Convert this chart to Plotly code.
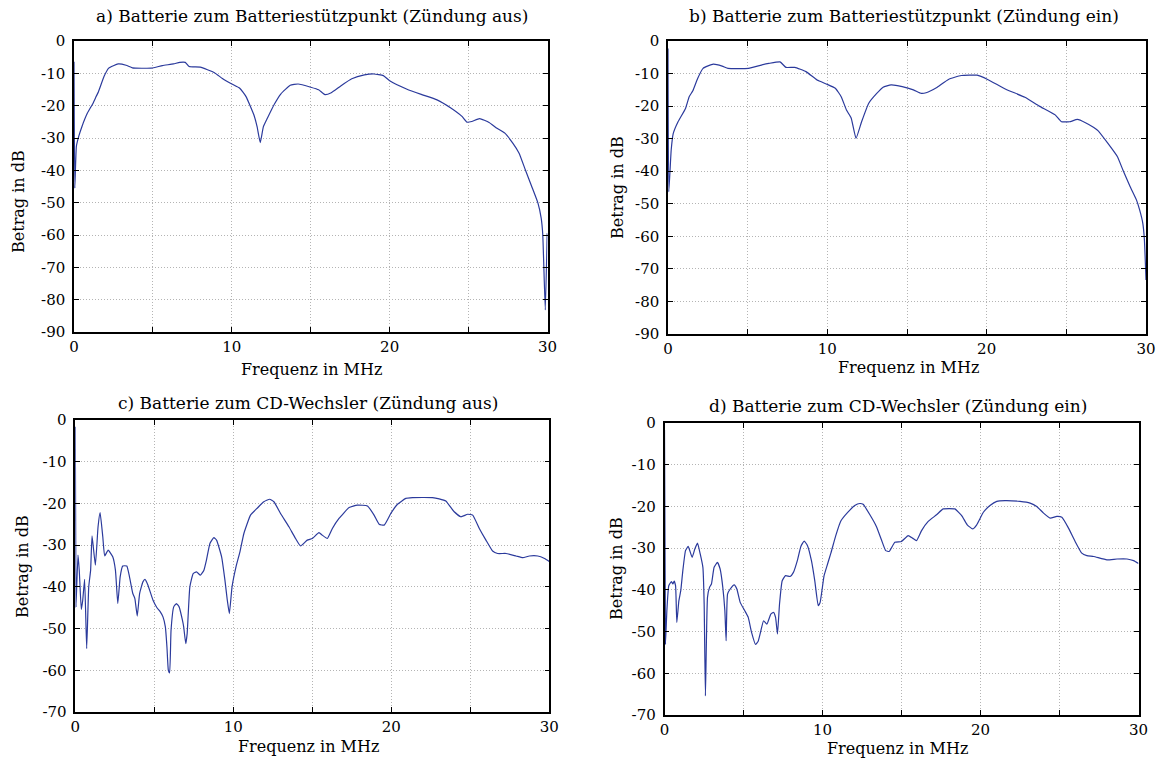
import plotly.graph_objects as go

# ---------------- data ----------------
freq_a = [0, 0.05, 0.15, 0.3, 0.5, 0.85, 1.2, 1.4, 1.55, 1.9, 2.2, 2.8, 3.3, 3.7, 4.9, 5.6, 6.3, 6.7,
          7.05, 7.3, 8.0, 8.9, 9.4, 10.0, 10.5, 10.9, 11.4, 11.6, 11.8, 12.0, 12.25, 12.7, 13.1, 13.7,
          14.2, 15.0, 15.5, 15.9, 16.3, 16.9, 17.6, 18.4, 19.0, 19.6, 20.0, 21.1, 22.0, 23.0, 23.9,
          24.6, 24.9, 25.2, 25.7, 26.3, 26.8, 27.3, 27.8, 28.2, 28.6, 29.0, 29.4, 29.6, 29.7, 29.86,
          29.98]
mag_a = [-6.4, -45.5, -32.6, -29.5, -26.5, -22.3, -19.3, -17.2, -15.7, -11.0, -8.4, -7.1, -7.5, -8.3,
         -8.4, -7.6, -7.1, -6.6, -6.6, -7.9, -8.1, -9.8, -11.6, -13.3, -14.6, -17.2, -22.9, -26.5,
         -31.4, -26.5, -23.9, -19.5, -16.4, -13.7, -13.3, -14.3, -15.1, -16.6, -16.0, -13.9, -11.7,
         -10.5, -10.2, -10.7, -12.3, -14.9, -16.5, -18.2, -20.8, -23.4, -25.1, -24.9, -24.0, -25.2,
         -27.0, -28.5, -31.6, -34.7, -39.9, -45.0, -50.2, -54.8, -59.9, -83.2, -59.5]

freq_b = [0, 0.05, 0.2, 0.33, 0.63, 1.1, 1.33, 1.56, 1.86, 2.2, 2.84, 3.4, 3.77, 5.05, 5.86, 6.33,
          7.03, 7.4, 7.96, 8.66, 9.36, 9.94, 10.5, 10.87, 11.2, 11.5, 11.8, 12.15, 12.6, 13.1, 13.5,
          14.0, 14.7, 15.4, 15.9, 16.2, 16.9, 17.6, 18.4, 19.4, 20.06, 21.2, 22.4, 23.3, 24.3, 24.7,
          25.2, 25.7, 26.2, 26.7, 27.0, 27.6, 28.2, 28.55, 29.0, 29.4, 29.6, 29.8, 29.9, 30.0]
mag_b = [-2.3, -46.3, -33.5, -28.4, -24.8, -20.7, -17.1, -15.3, -11.5, -8.4, -7.1, -7.7, -8.4, -8.4,
         -7.4, -6.9, -6.4, -8.1, -8.1, -9.4, -12.0, -13.2, -14.5, -17.1, -21.2, -23.7, -29.9, -24.8,
         -19.1, -16.1, -14.2, -13.5, -14.0, -15.0, -16.1, -15.9, -14.2, -11.8, -10.6, -10.5, -11.8,
         -14.8, -17.3, -20.0, -22.7, -24.8, -24.8, -24.1, -25.1, -26.5, -27.6, -31.4, -35.5, -39.6,
         -44.7, -48.8, -51.9, -56.0, -61.1, -73.4]

freq_c = [0, 0.04, 0.17, 0.25, 0.38, 0.47, 0.59, 0.72, 0.85, 0.97, 1.06, 1.27, 1.44, 1.57, 1.74, 1.86,
          2.08, 2.37, 2.54, 2.69, 2.84, 3.0, 3.26, 3.43, 3.64, 3.77, 3.92, 4.07, 4.28, 4.41, 4.6, 4.92,
          5.17, 5.38, 5.55, 5.7, 5.8, 5.89, 5.97, 6.06, 6.23, 6.4, 6.57, 6.78, 6.86, 6.99, 7.08, 7.25,
          7.46, 7.67, 7.92, 8.14, 8.3, 8.52, 8.77, 8.94, 9.26, 9.47, 9.62, 9.75, 9.92, 10.17, 10.42,
          10.67, 11.09, 11.5, 11.93, 12.3, 12.57, 12.99, 13.52, 13.94, 14.26, 14.68, 15.0, 15.42,
          15.63, 15.95, 16.27, 16.69, 17.33, 17.85, 18.49, 18.91, 19.23, 19.55, 19.97, 20.39, 20.92,
          21.34, 22.61, 23.03, 23.45, 23.98, 24.4, 24.83, 25.15, 25.57, 25.99, 26.41, 26.73, 27.26,
          27.9, 28.32, 28.74, 29.27, 29.7, 30.0]
mag_c = [-1.6, -44.8, -32.4, -36.0, -45.4, -43.2, -38.2, -54.8, -40.0, -36.0, -27.8, -34.8, -25.6,
         -22.2, -28.0, -32.6, -31.2, -32.8, -36.0, -44.0, -37.6, -35.0, -35.0, -37.6, -41.6, -42.8,
         -47.0, -41.6, -38.8, -38.2, -39.6, -43.2, -45.0, -46.0, -47.2, -49.6, -54.4, -60.0, -60.6,
         -50.4, -44.8, -44.0, -44.8, -48.0, -49.6, -53.6, -51.2, -40.0, -36.8, -36.4, -37.2, -36.0,
         -33.6, -29.6, -28.2, -28.8, -32.8, -38.4, -43.2, -46.4, -40.0, -35.2, -31.6, -27.2, -22.8,
         -21.2, -19.6, -19.0, -19.6, -22.4, -25.6, -28.4, -30.2, -28.8, -28.4, -27.0, -27.6, -28.4,
         -26.0, -23.6, -21.0, -20.4, -20.6, -22.8, -25.0, -25.2, -22.4, -20.2, -18.8, -18.6, -18.6,
         -18.9, -19.4, -22.0, -23.2, -22.6, -22.8, -26.0, -28.8, -31.4, -32.0, -32.0, -32.6, -33.0,
         -32.6, -32.6, -33.2, -33.9]

freq_d = [0, 0.06, 0.15, 0.27, 0.44, 0.53, 0.61, 0.7, 0.78, 0.91, 1.03, 1.16, 1.33, 1.5, 1.75, 1.92,
          2.09, 2.26, 2.43, 2.51, 2.59, 2.72, 2.85, 2.97, 3.14, 3.35, 3.52, 3.69, 3.82, 3.9, 3.99,
          4.16, 4.41, 4.58, 4.79, 5.08, 5.3, 5.51, 5.76, 5.93, 6.1, 6.27, 6.48, 6.73, 6.9, 7.03, 7.15,
          7.28, 7.45, 7.66, 7.95, 8.16, 8.42, 8.63, 8.84, 9.05, 9.3, 9.51, 9.73, 9.85, 10.1, 10.32,
          10.53, 10.84, 11.16, 11.58, 12.04, 12.36, 12.57, 13.0, 13.41, 13.73, 14.0, 14.22, 14.58,
          15.0, 15.42, 15.7, 15.95, 16.27, 16.69, 17.22, 17.64, 18.38, 18.81, 19.16, 19.5, 19.76,
          20.18, 20.6, 21.03, 21.55, 22.5, 23.14, 23.56, 23.99, 24.41, 24.83, 25.15, 25.57, 25.99,
          26.41, 26.73, 27.16, 28.0, 28.64, 29.27, 29.69, 30.0]
mag_d = [-1.6, -53.0, -45.0, -39.0, -38.0, -38.6, -37.9, -39.0, -47.8, -42.6, -40.2, -35.4, -30.6,
         -29.6, -32.2, -30.2, -28.8, -31.4, -34.6, -43.4, -65.4, -41.8, -39.4, -38.6, -34.6, -33.4,
         -35.0, -39.4, -45.0, -52.2, -41.0, -39.8, -38.8, -39.8, -43.0, -45.0, -46.6, -50.2, -53.1,
         -52.3, -49.8, -47.4, -48.2, -45.8, -45.4, -46.6, -50.6, -43.4, -37.8, -36.6, -36.8, -35.8,
         -32.8, -29.6, -28.3, -29.4, -33.0, -37.8, -43.8, -43.0, -36.6, -33.8, -31.2, -27.0, -23.5,
         -21.5, -19.8, -19.3, -19.5, -22.0, -24.8, -28.0, -30.6, -30.8, -28.6, -28.4, -27.0, -27.6,
         -28.2, -25.8, -23.6, -22.0, -20.6, -20.6, -22.2, -24.4, -25.4, -24.4, -21.4, -19.8, -18.8,
         -18.6, -18.8, -19.2, -20.0, -21.6, -22.8, -22.4, -22.6, -25.2, -28.4, -31.2, -31.8, -32.0,
         -32.8, -32.6, -32.6, -33.0, -33.7]

titles = ["a) Batterie zum Batteriestützpunkt (Zündung aus)",
          "b) Batterie zum Batteriestützpunkt (Zündung ein)",
          "c) Batterie zum CD-Wechsler (Zündung aus)",
          "d) Batterie zum CD-Wechsler (Zündung ein)"]
x_title = "Frequenz in MHz"
y_title = "Betrag in dB"

x_tickvals = [0, 5, 10, 15, 20, 25, 30]
x_ticktext = ["0", "", "10", "", "20", "", "30"]
y_tickvals_ab = [0, -10, -20, -30, -40, -50, -60, -70, -80, -90]
y_ticktext_ab = ["0", "-10", "-20", "-30", "-40", "-50", "-60", "-70", "-80", "-90"]
y_tickvals_cd = [0, -10, -20, -30, -40, -50, -60, -70]
y_ticktext_cd = ["0", "-10", "-20", "-30", "-40", "-50", "-60", "-70"]

# ---------------- figure ----------------
W, H = 1161, 760
FONT = "DejaVu Serif"
LINE = "#2b3a9c"

def fx_(p):
    return p / W

def fy_(p):
    return 1 - p / H

def px_x(a, b):
    return [fx_(a), fx_(b)]

def px_y(top, bottom):
    return [fy_(bottom), fy_(top)]

panels = [
    # (freq, mag, xdom px, ydom px, yrange, yticks, ytext, title pos, xtitle pos, ytitle pos)
    (freq_a, mag_a, (74, 547.5), (41, 332), [-90, 0], y_tickvals_ab, y_ticktext_ab,
     (312, 16), (311, 369), (18, 202)),
    (freq_b, mag_b, (668, 1146), (41, 334), [-90, 0], y_tickvals_ab, y_ticktext_ab,
     (904, 16), (908, 368), (617, 188)),
    (freq_c, mag_c, (75.3, 549.3), (420, 712), [-70, 0], y_tickvals_cd, y_ticktext_cd,
     (308, 403), (308, 746), (22, 567)),
    (freq_d, mag_d, (664.5, 1138.5), (423, 715), [-70, 0], y_tickvals_cd, y_ticktext_cd,
     (898, 406), (897, 748), (616, 569)),
]

fig = go.Figure()
layout = dict(
    width=W, height=H,
    margin=dict(l=0, r=0, t=0, b=0),
    paper_bgcolor="white", plot_bgcolor="white",
    showlegend=False,
    font=dict(family=FONT, size=14, color="black"),
    annotations=[],
)

for i, (fx, my, xd, yd, yr, ytv, ytt, tpos, xtpos, ytpos) in enumerate(panels):
    n = "" if i == 0 else str(i + 1)
    fig.add_trace(go.Scatter(x=fx, y=my, mode="lines",
                             line=dict(color=LINE, width=1.2, shape="spline", smoothing=0.4),
                             xaxis="x" + n, yaxis="y" + n, hoverinfo="x+y"))
    common = dict(showgrid=True, gridcolor="#b4b4b4", griddash="1px,2px", gridwidth=1,
                  ticks="inside", ticklen=5, tickwidth=1, tickcolor="black",
                  showline=True, linecolor="black", linewidth=1.5, mirror="allticks",
                  zeroline=False, fixedrange=True, automargin=False,
                  tickfont=dict(family=FONT, size=15, color="black"))
    layout["xaxis" + n] = dict(common, domain=px_x(*xd), range=[0, 30],
                               tickmode="array", tickvals=x_tickvals, ticktext=x_ticktext,
                               anchor="y" + n)
    layout["yaxis" + n] = dict(common, domain=px_y(*yd), range=yr,
                               tickmode="array", tickvals=ytv, ticktext=ytt,
                               ticklabelstandoff=4, anchor="x" + n)
    layout["annotations"] += [
        dict(text=titles[i], x=fx_(tpos[0]), y=fy_(tpos[1]), xref="paper", yref="paper",
             showarrow=False, xanchor="center", yanchor="middle",
             font=dict(family=FONT, size=17, color="black")),
        dict(text=x_title, x=fx_(xtpos[0]), y=fy_(xtpos[1]), xref="paper", yref="paper",
             showarrow=False, xanchor="center", yanchor="middle",
             font=dict(family=FONT, size=16, color="black")),
        dict(text=y_title, x=fx_(ytpos[0]), y=fy_(ytpos[1]), xref="paper", yref="paper",
             showarrow=False, xanchor="center", yanchor="middle", textangle=-90,
             font=dict(family=FONT, size=16, color="black")),
    ]

fig.update_layout(**layout)
fig.write_html("out.html")
